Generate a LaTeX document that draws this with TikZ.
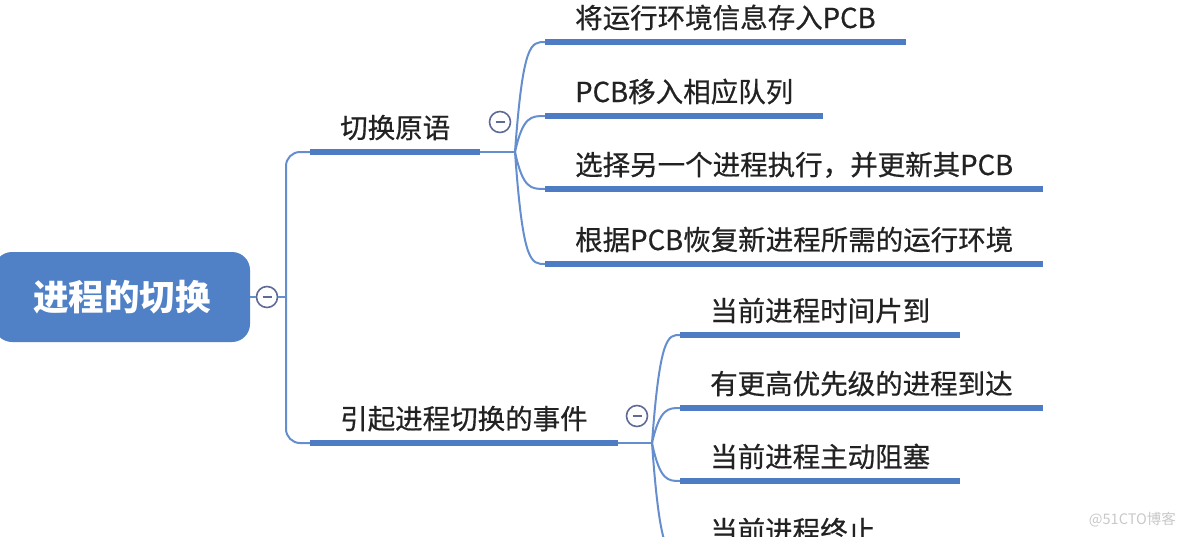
\documentclass[tikz,border=0pt]{standalone}
\usepackage{fontspec}
\setmainfont{Noto Sans CJK SC}
\newfontfamily\leaffont{Noto Sans CJK SC}[FakeBold=0.6]
\usetikzlibrary{calc}
\definecolor{rootblue}{RGB}{80,128,198}
\definecolor{lineblue}{RGB}{78,124,196}
\definecolor{connblue}{RGB}{100,142,206}
\definecolor{ringgray}{RGB}{96,106,150}
\definecolor{txt}{RGB}{34,34,34}
\definecolor{wm}{RGB}{200,200,200}
\begin{document}
\begin{tikzpicture}[x=1pt,y=-1pt,
 rootbox/.style={fill=rootblue, rounded corners=18pt, text=white, font=\fontsize{35.5pt}{38pt}\selectfont\bfseries, minimum width=256pt, minimum height=90pt, inner sep=0pt},
 leaf/.style={text=txt, font=\fontsize{27.5pt}{30pt}\leaffont, inner xsep=30pt, inner ysep=0pt, anchor=base west},
 under/.style={draw=lineblue, line width=5.5pt},
 conn/.style={draw=connblue, line width=2pt},
 toggle/.style={circle, draw=ringgray, line width=1.6pt, fill=white, minimum size=21pt, inner sep=0pt,
   path picture={\draw[ringgray, line width=1.8pt] ([xshift=-4.5pt]path picture bounding box.center) -- ([xshift=4.5pt]path picture bounding box.center);}},
 wmark/.style={text=wm, font=\fontsize{14.5pt}{16pt}\selectfont, anchor=east, inner sep=0pt}
]
\useasboundingbox (0,0) rectangle (1184,536);
\clip (0,0) rectangle (1184,536);

% root
\node[rootbox] (root) at (122,297) {进程的切换};
\node[toggle] (t0) at (267,297) {};
\coordinate (j0) at (286,297);
\draw[conn] (root.east) -- (t0.west);
\draw[conn] (t0.east) -- (j0);

% first branch
\coordinate (a1) at (310,152);
\node[leaf] (g1) at ([yshift=14pt]a1) {切换原语};
\draw[conn, rounded corners=14pt] (j0) |- (a1);
\draw[under] (a1) -- (a1 -| g1.east);
\coordinate (b1) at (515,152);
\draw[conn] (a1 -| g1.east) -- (b1);
\node[toggle] (t1) at (500,122) {};

% second branch
\coordinate (a2) at (310,443);
\node[leaf] (g2) at ([yshift=14pt]a2) {引起进程切换的事件};
\draw[conn, rounded corners=14pt] (j0) |- (a2);
\draw[under] (a2) -- (a2 -| g2.east);
\coordinate (b2) at (652,443);
\draw[conn] (a2 -| g2.east) -- (b2);
\node[toggle] (t2) at (637,416) {};

% children of first branch
\coordinate (u1) at (545,42);
\coordinate (u2) at (545,116);
\coordinate (u3) at (545,189);
\coordinate (u4) at (545,264);
\node[leaf] (n1) at ([yshift=14pt]u1) {将运行环境信息存入PCB};
\node[leaf] (n2) at ([yshift=14pt]u2) {PCB移入相应队列};
\node[leaf] (n3) at ([yshift=14pt]u3) {选择另一个进程执行，并更新其PCB};
\node[leaf] (n4) at ([yshift=14pt]u4) {根据PCB恢复新进程所需的运行环境};
\foreach \i in {1,2,3,4}{
  \draw[under] (u\i) -- (u\i -| n\i.east);
  \draw[conn] (b1) .. controls ($(b1|-u\i)+(8,0)$) and ($(b1|-u\i)+(16,0)$) .. (u\i);
}

% children of second branch
\coordinate (v1) at (680,335);
\coordinate (v2) at (680,408);
\coordinate (v3) at (680,481);
\coordinate (v4) at (680,555);
\node[leaf] (m1) at ([yshift=14pt]v1) {当前进程时间片到};
\node[leaf] (m2) at ([yshift=14pt]v2) {有更高优先级的进程到达};
\node[leaf] (m3) at ([yshift=14pt]v3) {当前进程主动阻塞};
\node[leaf] (m4) at ([yshift=14pt]v4) {当前进程终止};
\foreach \i in {1,2,3,4}{
  \draw[under] (v\i) -- (v\i -| m\i.east);
  \draw[conn] (b2) .. controls ($(b2|-v\i)+(8,0)$) and ($(b2|-v\i)+(16,0)$) .. (v\i);
}

% watermark
\node[wmark] (wmk) at (1176,520) {@51CTO博客};
\end{tikzpicture}
\end{document}
